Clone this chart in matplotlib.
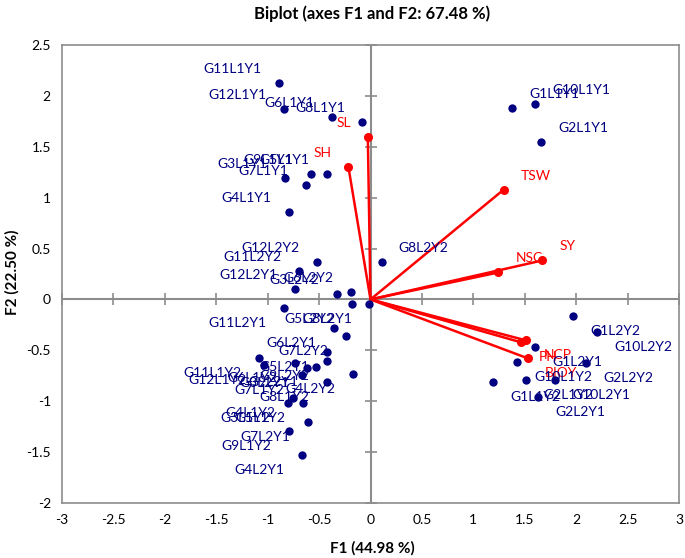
import matplotlib
matplotlib.use("Agg")
import matplotlib.pyplot as plt

plt.rcParams['font.family'] = ['Lato', 'DejaVu Sans']

# Observations (F1, F2)
obs_names = [
    "G11L1Y1", "G12L1Y1", "G6L1Y1", "G8L1Y1", "G3L1Y1", "G9L1Y1", "G5L1Y1", "G7L1Y1", "G4L1Y1",
    "G1L1Y1", "G10L1Y1", "G2L1Y1",
    "G12L2Y2", "G11L2Y2", "G3L2Y2", "G6L2Y2", "G5L2Y2", "G8L2Y2", "G7L2Y2", "G1L2Y2", "G10L2Y2",
    "G2L2Y2", "G4L2Y2", "G9L2Y2",
    "G12L2Y1", "G11L2Y1", "G8L2Y1", "G6L2Y1", "G5L2Y1", "G1L2Y1", "G10L2Y1", "G2L2Y1", "G7L2Y1",
    "G4L2Y1", "G3L2Y1", "G9L2Y1",
    "G11L1Y2", "G12L1Y2", "G7L1Y2", "G8L1Y2", "G4L1Y2", "G3L1Y2", "G5L1Y2", "G9L1Y2", "G6L1Y2",
    "G1L1Y2", "G10L1Y2", "G2L1Y2",
]
obs_f1 = [
    -0.893, -0.845, -0.379, -0.078, -0.835, -0.583, -0.427, -0.631, -0.796,
    1.38, 1.60, 1.66,
    -0.524, -0.699, -0.330, -0.194, -0.184, 0.107, -0.243, 1.971, 2.204,
    2.097, -0.175, -0.427,
    -0.738, -0.845, -0.010, -0.359, -0.427, 1.602, 1.796, 1.631, -0.612,
    -0.670, -0.621, -0.534,
    -1.087, -1.039, -0.670, -0.427, -0.757, -0.806, -0.660, -0.796, -0.738,
    1.194, 1.427, 1.515,
]
obs_f2 = [
    2.13, 1.876, 1.79, 1.74, 1.19, 1.23, 1.23, 1.12, 0.864,
    1.88, 1.92, 1.55,
    0.363, 0.275, 0.049, 0.069, -0.049, 0.363, -0.363, -0.167, -0.324,
    -0.629, -0.737, -0.609,
    0.098, -0.088, -0.049, -0.285, -0.521, -0.472, -0.796, -0.963, -1.208,
    -1.532, -0.678, -0.668,
    -0.580, -0.648, -0.747, -0.815, -0.973, -1.022, -1.022, -1.297, -0.629,
    -0.815, -0.619, -0.796,
]
# label placement quadrant for each observation
obs_pos = (["ul"] * 9 + ["ur"] * 3 +
           ["ul"] * 4 + ["ll", "ur", "ll", "lr", "lr", "lr", "ll", "ll"] +
           ["ul"] + ["ll"] * 4 + ["lr"] * 3 + ["ll"] * 4 +
           ["ll"] * 9 + ["lr"] * 3)

# Variables (loadings)
var_names = ["SL", "SH", "TSW", "SY", "NSC", "PH", "NCP", "BIOY"]
var_f1 = [-0.026, -0.214, 1.294, 1.67, 1.243, 1.466, 1.515, 1.534]
var_f2 = [1.594, 1.297, 1.078, 0.383, 0.265, -0.422, -0.403, -0.580]
var_pos = ["ul", "ul", "ur", "ur", "ur", "lr", "lr", "lr"]

xticks = [-3, -2.5, -2, -1.5, -1, -0.5, 0, 0.5, 1, 1.5, 2, 2.5, 3]
yticks = [-2, -1.5, -1, -0.5, 0, 0.5, 1, 1.5, 2, 2.5]

title = "Biplot (axes F1 and F2: 67.48 %)"
xlabel = "F1 (44.98 %)"
ylabel = "F2 (22.50 %)"

W, H = 685, 558
fig = plt.figure(figsize=(W / 100, H / 100), dpi=100)
ax = fig.add_axes([62 / W, 1 - 503 / H, (679 - 62) / W, (503 - 45) / H])
ax.set_xlim(-3, 3)
ax.set_ylim(-2, 2.5)

gray = "#8C8C8C"
navy = "#000080"
red = "#FF0000"

for s in ax.spines.values():
    s.set_color(gray)
    s.set_linewidth(1.2)
ax.set_xticks(xticks)
ax.set_yticks(yticks)
ax.set_xticklabels([f"{t:g}" for t in xticks])
ax.set_yticklabels([f"{t:g}" for t in yticks])
ax.tick_params(length=0, labelsize=10, pad=8, colors="black")

# zero axes with crossing ticks
ax.axhline(0, color=gray, lw=1.5, zorder=1)
ax.axvline(0, color=gray, lw=1.5, zorder=1)
ax.plot(xticks, [0] * len(xticks), linestyle="none", marker="|", ms=8, mew=1.2,
        color=gray, zorder=1, clip_on=False)
ax.plot([0] * len(yticks), yticks, linestyle="none", marker="_", ms=8, mew=1.2,
        color=gray, zorder=1, clip_on=False)

offs = {"ul": (-17, 14, "right"), "ur": (17, 14, "left"),
        "ll": (-17, -15, "right"), "lr": (17, -15, "left")}

# vectors
for n, x, y, p in zip(var_names, var_f1, var_f2, var_pos):
    ax.plot([0, x], [0, y], color=red, lw=1.8, zorder=3, solid_capstyle="round")
    ax.plot([x], [y], marker="o", ms=5.5, color=red, zorder=3)
    dx, dy, ha = offs[p]
    ax.annotate(n, (x, y), xytext=(dx, dy), textcoords="offset pixels",
                ha=ha, va="center", color=red, fontsize=10, zorder=4)

# observations
ax.scatter(obs_f1, obs_f2, s=36, color=navy, zorder=5, linewidths=0)
for n, x, y, p in zip(obs_names, obs_f1, obs_f2, obs_pos):
    dx, dy, ha = offs[p]
    ax.annotate(n, (x, y), xytext=(dx, dy), textcoords="offset pixels",
                ha=ha, va="center", color=navy, fontsize=10, zorder=6)

fig.text(372 / W, 1 - 14 / H, title, ha="center", va="center",
         fontsize=12, fontweight="bold")
fig.text(372 / W, 1 - 548 / H, xlabel, ha="center", va="center",
         fontsize=11, fontweight="bold")
fig.text(12 / W, 1 - 272 / H, ylabel, ha="center", va="center",
         fontsize=11, fontweight="bold", rotation=90)

fig.savefig("out.png", dpi=100)
